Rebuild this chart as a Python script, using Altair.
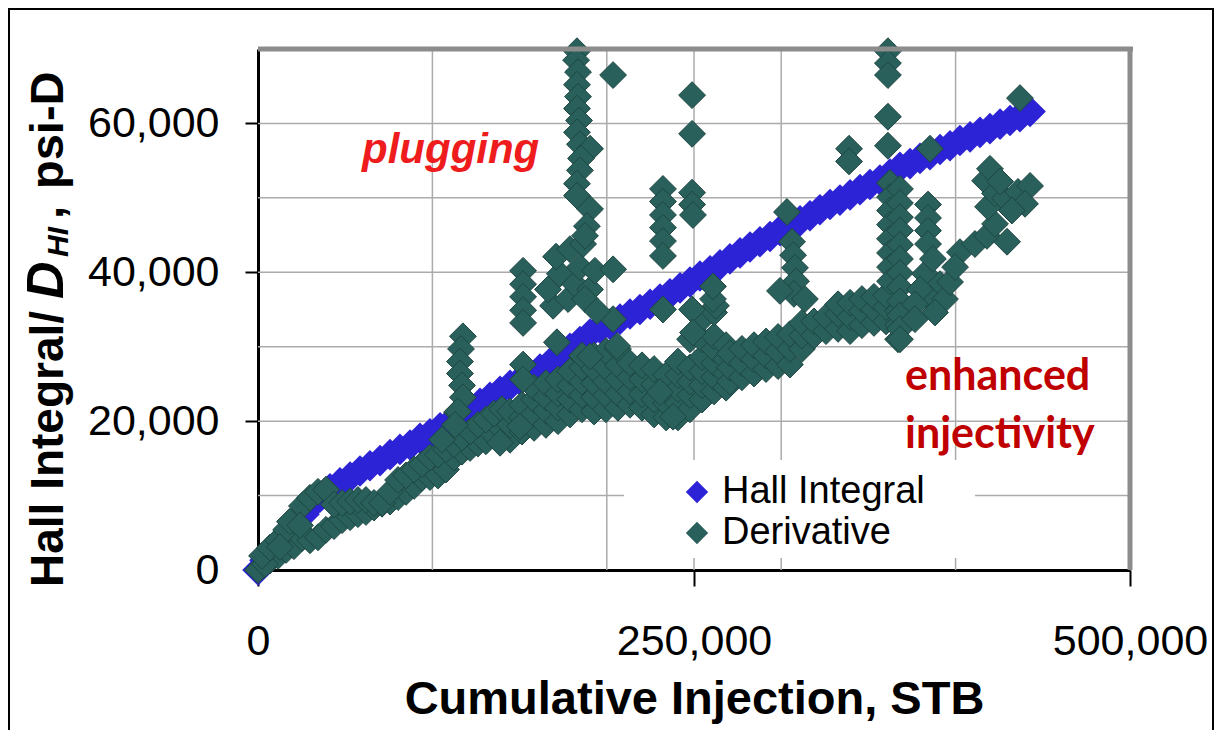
import altair as alt
import pandas as pd

FONT = "Liberation Sans, Arial, sans-serif"

# ---------------- data (thousands of STB / thousands of psi-D) ----------------
hall_x_k = [0.0, 4.0, 8.0, 12.6, 17.2, 21.8, 26.4, 31.0, 35.6, 41.3, 47.0, 52.8, 58.5, 64.2, 70.0,
            75.7, 81.4, 87.2, 92.9, 98.6, 104.4, 110.1, 115.8, 121.6, 127.3, 133.0, 138.8, 144.5,
            150.2, 155.9, 161.7, 167.4, 173.1, 178.9, 184.6, 190.4, 196.1, 201.8, 207.6, 213.3,
            219.0, 224.8, 230.5, 236.2, 242.0, 247.7, 253.4, 259.2, 264.9, 270.6, 276.4, 282.1,
            287.8, 293.6, 299.3, 305.0, 310.8, 316.5, 322.2, 328.0, 333.7, 339.5, 345.2, 350.9,
            356.6, 362.4, 368.1, 373.9, 379.6, 385.3, 391.1, 396.8, 402.5, 408.3, 414.0, 419.7,
            425.5, 431.2, 436.9, 442.7]
hall_y_k = [0.0, 1.3, 2.6, 3.6, 4.7, 6.2, 7.5, 8.8, 9.8, 10.9, 11.7, 12.5, 13.3, 14.0, 14.7,
            15.5, 16.2, 16.8, 17.7, 18.3, 19.1, 19.8, 20.6, 21.6, 22.4, 23.2, 24.0, 24.8,
            25.5, 26.3, 27.0, 27.8, 28.7, 29.8, 30.7, 31.7, 32.5, 33.0, 33.7, 34.4,
            35.0, 35.7, 36.4, 37.1, 37.9, 38.7, 39.5, 40.2, 41.0, 41.8, 42.6, 43.4,
            44.1, 44.8, 45.6, 46.2, 46.9, 47.6, 48.4, 49.1, 49.7, 50.4, 51.1, 51.8,
            52.4, 53.2, 54.1, 54.6, 55.3, 55.8, 56.5, 57.0, 57.7, 58.2, 58.8, 59.3,
            59.9, 60.4, 60.9, 61.6]

deriv_band_lower = [(2.3, 0.5), (6.9, 1.3), (11.5, 1.9), (16.1, 2.7), (20.6, 3.2), (25.2, 4.3),
                    (29.8, 4.0), (34.4, 4.4), (39.0, 5.4), (43.6, 5.9), (48.2, 6.7), (52.8, 7.1),
                    (57.3, 7.5), (61.9, 7.8), (66.5, 8.4), (71.1, 8.9), (75.7, 9.2), (80.3, 9.8),
                    (84.9, 10.5), (89.5, 11.3), (94.0, 12.4), (98.6, 12.5), (103.2, 12.7),
                    (107.8, 13.5), (112.4, 15.1), (117.0, 15.9), (121.6, 16.4), (126.1, 17.0),
                    (130.7, 17.3), (135.3, 18.1), (139.9, 18.9)]
deriv_band_upper = [(0.0, 0.0), (4.0, 0.8), (2.3, 1.9), (6.9, 3.0), (11.5, 4.0), (16.1, 5.4),
                    (20.6, 6.7), (25.2, 8.6), (29.8, 9.7), (34.4, 10.5), (39.0, 10.8), (43.6, 8.8),
                    (48.2, 9.0), (52.8, 9.2), (57.3, 9.4), (61.9, 9.4), (66.5, 9.0), (71.1, 9.0),
                    (75.7, 10.5), (80.3, 12.1), (84.9, 12.7), (89.5, 13.5), (94.0, 14.2),
                    (98.6, 15.1), (103.2, 15.5), (107.8, 16.2), (112.4, 16.9), (117.0, 17.8),
                    (121.6, 18.6), (126.1, 19.5), (130.7, 20.2), (135.3, 21.0), (139.9, 21.6),
                    (105.5, 17.5), (114.1, 21.2), (18.3, 6.5), (12.6, 3.1), (24.1, 6.0)]
deriv_spike_117 = [(117.5, 31.4), (116.4, 29.7), (115.8, 28.0), (115.8, 26.4), (117.0, 24.8),
                   (117.5, 23.2), (114.7, 21.3), (113.0, 19.5)]
deriv_mass_145_270 = [
    (144.5, 17.5), (144.5, 19.5), (144.5, 21.3),
    (151.4, 18.6), (151.4, 20.5), (151.4, 22.2),
    (158.3, 19.1), (158.3, 21.0), (158.3, 22.9), (158.3, 24.5),
    (165.1, 19.5), (165.1, 21.4), (165.1, 23.2), (165.1, 25.1),
    (172.0, 20.0), (172.0, 21.8), (172.0, 23.7), (172.0, 25.6),
    (178.9, 20.9), (178.9, 22.9), (178.9, 24.8), (178.9, 26.7),
    (185.8, 21.6), (185.8, 23.5), (185.8, 25.3), (185.8, 27.2), (185.8, 28.8),
    (192.7, 21.3), (192.7, 23.2), (192.7, 25.1), (192.7, 27.0), (192.7, 28.8),
    (199.5, 21.6), (199.5, 23.5), (199.5, 25.3), (199.5, 27.2), (199.5, 29.4),
    (206.4, 21.8), (206.4, 23.7), (206.4, 25.6), (206.4, 27.5), (206.4, 29.7),
    (213.3, 22.2), (213.3, 24.0), (213.3, 25.9), (213.3, 27.8),
    (220.2, 21.8), (220.2, 23.6), (220.2, 25.6), (220.2, 27.5),
    (227.1, 20.9), (227.1, 22.9), (227.1, 24.9), (227.1, 27.0),
    (234.0, 20.5), (234.0, 22.4), (234.0, 24.3), (234.0, 26.2),
    (240.8, 20.5), (240.8, 22.4), (240.8, 24.3), (240.8, 26.2), (240.8, 28.0),
    (247.7, 21.6), (247.7, 23.5), (247.7, 25.3), (247.7, 27.2), (247.7, 31.0),
    (254.6, 22.9), (254.6, 24.8), (254.6, 26.7), (254.6, 28.6), (254.6, 31.0), (254.6, 33.7),
    (261.5, 24.0), (261.5, 25.9), (261.5, 27.8), (261.5, 29.7), (261.5, 31.4), (261.5, 34.6),
    (268.4, 24.5), (268.4, 26.4), (268.4, 28.3), (268.4, 30.2),
    (138.8, 17.1), (150.2, 19.3), (152.0, 27.6), (152.0, 25.6), (171.4, 30.6), (190.4, 28.7),
    (203.6, 33.7), (205.9, 30.1), (232.2, 35.0), (248.9, 35.0), (262.6, 35.5), (260.9, 36.4),
    (249.4, 31.9), (238.0, 20.6), (230.5, 23.9), (260.9, 38.1)]
deriv_spike_152 = [(152.0, 40.2), (152.0, 38.4), (152.0, 36.7), (152.0, 34.9), (152.0, 33.2)]
deriv_blob_180 = [(169.2, 35.5), (166.3, 37.7), (173.1, 39.8), (170.9, 42.1), (177.8, 36.4),
                  (181.8, 38.4), (184.6, 40.7), (178.9, 43.1), (190.4, 37.7), (193.2, 40.2),
                  (187.5, 36.4), (194.4, 34.8), (186.4, 43.8)]
deriv_spike_183 = [(182.9, 69.7), (182.4, 68.5), (183.5, 66.9), (182.9, 65.2), (183.5, 63.6),
                   (182.9, 62.0), (184.1, 60.4), (182.9, 58.8), (184.6, 57.2), (190.4, 56.6),
                   (185.2, 55.3), (184.6, 53.7), (182.9, 51.9), (182.9, 50.3), (190.4, 48.5),
                   (188.6, 46.2), (187.5, 44.9)]
deriv_spikes_200_250 = [(203.6, 66.5), (203.6, 40.4),
                        (232.2, 51.2), (232.2, 49.5), (232.2, 47.7), (232.2, 46.0), (232.2, 44.2),
                        (232.2, 42.2), (248.9, 50.7), (248.9, 49.1), (249.4, 47.7), (248.9, 63.8),
                        (248.9, 58.6)]
deriv_band_270_370 = [
    (270.6, 25.3), (270.6, 27.2), (270.6, 29.1), (277.5, 25.9), (277.5, 27.8), (277.5, 29.7),
    (284.4, 26.4), (284.4, 28.3), (284.4, 30.2), (291.3, 27.0), (291.3, 28.8), (291.3, 30.7),
    (298.2, 27.4), (298.2, 29.4), (298.2, 31.3), (305.0, 27.6), (305.0, 29.7), (305.0, 31.7),
    (311.9, 29.7), (311.9, 31.5), (311.9, 33.2), (318.8, 31.5), (318.8, 33.4),
    (325.7, 32.1), (325.7, 34.0), (332.6, 32.4), (332.6, 34.4), (332.6, 35.7),
    (339.5, 32.1), (339.5, 34.0), (339.5, 35.9), (346.3, 32.9), (346.3, 34.8), (346.3, 36.4),
    (353.2, 33.2), (353.2, 35.0), (353.2, 36.7), (360.1, 33.4), (360.1, 35.3), (360.1, 36.9),
    (367.0, 31.0), (367.0, 32.9), (367.0, 34.8)]
deriv_spikes_300_360 = [(303.3, 48.1), (306.2, 44.1), (306.8, 42.3), (307.9, 40.6), (308.5, 38.8),
                        (307.3, 37.1), (299.3, 37.5), (313.6, 36.4),
                        (338.9, 56.6), (338.9, 54.9),
                        (361.2, 69.7), (361.2, 68.1), (361.2, 66.5), (361.2, 60.9), (361.2, 57.0)]
deriv_columns_360_390 = [
    (362.4, 52.0), (362.4, 50.1), (362.4, 48.3), (362.4, 46.4), (362.4, 44.5), (362.4, 42.6),
    (362.4, 40.7), (362.4, 38.8),
    (368.1, 51.2), (368.1, 49.3), (368.1, 47.4), (368.1, 45.6), (368.1, 43.7), (368.1, 41.8),
    (368.1, 39.9), (368.1, 38.0), (368.1, 36.1), (368.1, 34.2), (368.1, 32.4), (368.1, 31.0),
    (384.2, 49.1), (384.2, 47.3), (384.2, 45.6), (384.2, 43.8),
    (382.5, 39.8), (391.1, 38.4), (385.3, 36.4), (393.9, 36.4), (388.2, 34.6), (379.6, 37.7),
    (396.8, 38.7), (376.7, 35.7), (376.7, 33.7), (387.0, 41.8), (385.3, 56.6)]
deriv_cluster_400_445 = [(402.5, 42.7), (411.1, 43.8), (418.0, 44.9), (429.5, 44.1), (422.6, 46.5),
                         (418.6, 48.8), (416.9, 52.3), (422.6, 50.6), (428.3, 49.9), (435.8, 50.8),
                         (442.7, 51.6), (439.8, 49.2), (432.3, 48.3), (419.7, 53.9), (425.5, 52.2),
                         (399.7, 40.7), (436.9, 63.4)]

series_names = ["Hall Integral", "Derivative"]
series_colors = ["#2d23d6", "#2a605b"]
x_tick_values = [0, 250000, 500000]
y_tick_values = [0, 20000, 40000, 60000]
x_grid_values = [100000, 200000, 250000, 300000, 400000]
y_grid_values = [10000, 20000, 30000, 40000, 50000, 60000]

# ---------------- tables ----------------
hall_df = pd.DataFrame({"x": [v * 1000 for v in hall_x_k],
                        "y": [v * 1000 for v in hall_y_k],
                        "series": "Hall Integral"})
deriv_pairs = (deriv_band_lower + deriv_band_upper + deriv_spike_117 + deriv_mass_145_270 +
               deriv_spike_152 + deriv_blob_180 + deriv_spike_183 + deriv_spikes_200_250 +
               deriv_band_270_370 + deriv_spikes_300_360 + deriv_columns_360_390 +
               deriv_cluster_400_445)
deriv_df = pd.DataFrame({"x": [p[0] * 1000 for p in deriv_pairs],
                         "y": [p[1] * 1000 for p in deriv_pairs],
                         "series": "Derivative"})

W, H = 872, 521
xs = alt.Scale(domain=[0, 500000], nice=False, zero=False)
ys = alt.Scale(domain=[0, 70000], nice=False, zero=False)

x_axis = alt.Axis(values=x_tick_values, format=",d", labelFont=FONT, labelFontSize=43,
                  labelColor="black", labelPadding=34, labelFlush=False, labelOverlap=False,
                  tickSize=16, tickWidth=2, tickColor="black", domainColor="black",
                  domainWidth=3, grid=False, title="Cumulative Injection, STB",
                  titleFont=FONT, titleFontSize=47, titleFontWeight="bold", titleColor="black",
                  titleX=W / 2, titleY=143, titleBaseline="alphabetic", titleAlign="center")
y_axis = alt.Axis(values=y_tick_values, format=",d", labelFont=FONT, labelFontSize=43,
                  labelColor="black", labelPadding=26, labelOverlap=False, tickSize=13,
                  tickWidth=2, tickColor="black", domainColor="black", domainWidth=3,
                  grid=False, title=None)
legend = alt.Legend(title=None, orient="none", legendX=420, legendY=424, symbolType="diamond",
                    symbolSize=500, labelFont=FONT, labelFontSize=38, labelColor="black",
                    labelOffset=6, labelLimit=500, rowPadding=3, padding=0,
                    symbolStrokeWidth=0)
color = alt.Color("series:N", scale=alt.Scale(domain=series_names, range=series_colors),
                  legend=legend)

one = pd.DataFrame({"k": [0]})

xgrid = alt.Chart(pd.DataFrame({"x": x_grid_values})).mark_rule(
    color="#ababab", strokeWidth=1.5).encode(x=alt.X("x:Q", scale=xs, axis=x_axis))
ygrid = alt.Chart(pd.DataFrame({"y": y_grid_values})).mark_rule(
    color="#ababab", strokeWidth=1.5).encode(y=alt.Y("y:Q", scale=ys, axis=y_axis))
legend_box = alt.Chart(one).mark_rect(color="white").encode(
    x=alt.value(366), x2=alt.value(717), y=alt.value(411), y2=alt.value(509))

hall_pts = alt.Chart(hall_df).mark_point(shape="diamond", filled=True, size=1000, opacity=1).encode(
    x=alt.X("x:Q", scale=xs, axis=x_axis),
    y=alt.Y("y:Q", scale=ys, axis=y_axis),
    color=color)
deriv_pts = alt.Chart(deriv_df).mark_point(shape="diamond", filled=True, size=720, opacity=1,
                                           stroke="#1d4642", strokeWidth=1).encode(
    x=alt.X("x:Q", scale=xs, axis=x_axis),
    y=alt.Y("y:Q", scale=ys, axis=y_axis),
    color=color)

top_border = alt.Chart(one).mark_rule(color="#8c8c8c", strokeWidth=5).encode(
    x=alt.value(0), x2=alt.value(W + 3), y=alt.value(0))
right_border = alt.Chart(one).mark_rule(color="#8c8c8c", strokeWidth=5).encode(
    x=alt.value(W), y=alt.value(-2), y2=alt.value(H))
frame_left = alt.Chart(one).mark_rule(color="black", strokeWidth=2).encode(
    x=alt.value(-249), y=alt.value(-41), y2=alt.value(H + 160))
frame_top = alt.Chart(one).mark_rule(color="black", strokeWidth=2).encode(
    x=alt.value(-250), x2=alt.value(956), y=alt.value(-40))
frame_right = alt.Chart(one).mark_rule(color="black", strokeWidth=2).encode(
    x=alt.value(955), y=alt.value(-41), y2=alt.value(H + 160))


def txt(text, x, y, size, weight="bold", style="normal", color="black", angle=0,
        font=FONT, align="left"):
    return alt.Chart(one).mark_text(text=text, font=font, fontSize=size, fontWeight=weight,
                                    fontStyle=style, color=color, angle=angle, align=align,
                                    baseline="alphabetic").encode(
        x=alt.value(x), y=alt.value(y))


annotations = [
    txt("plugging", 104, 114, 42, style="italic", color="#ee1c1c"),
    txt("enhanced", 647, 341, 43, color="#c00000", font="Lato"),
    txt("injectivity", 647, 399, 43, color="#c00000", font="Lato"),
    # rotated y-axis title: Hall Integral/ D_HI, psi-D
    txt("Hall Integral/", -195, 538, 46, angle=270),
    txt("D", -195, 250, 52, style="italic", angle=270),
    txt("HI", -190, 208, 30, style="italic", angle=270),
    txt(",", -195, 170, 47, angle=270),
    txt("psi-D", -195, 140, 47, angle=270),
]

chart = alt.layer(
    xgrid, ygrid, legend_box, hall_pts, deriv_pts, top_border, right_border,
    frame_left, frame_top, frame_right, *annotations
).properties(
    width=W, height=H,
    padding={"left": 250, "top": 41, "right": 84, "bottom": 160},
    autosize=alt.AutoSizeParams(type="none"),
).configure_view(stroke=None)

chart.save("out.html", embed_options={"renderer": "svg", "actions": False})
